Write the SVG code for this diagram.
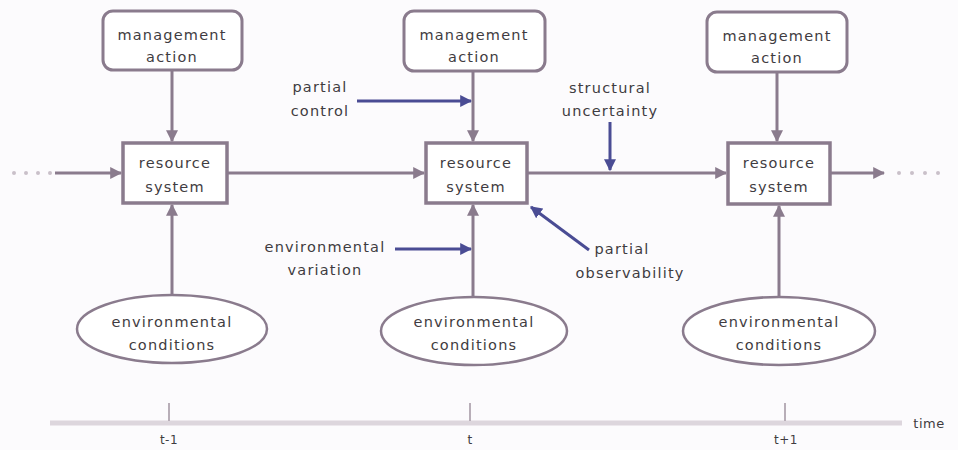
<svg xmlns="http://www.w3.org/2000/svg" width="958" height="450" viewBox="0 0 958 450">
<defs>
<marker id="ah" viewBox="0 0 10 10" refX="9" refY="5" markerWidth="4" markerHeight="4" orient="auto" markerUnits="strokeWidth">
<path d="M0,0 L10,5 L0,10 z" fill="#8a7b8d"/>
</marker>
<marker id="bh" viewBox="0 0 10 10" refX="9" refY="5" markerWidth="4" markerHeight="4" orient="auto" markerUnits="strokeWidth">
<path d="M0,0 L10,5 L0,10 z" fill="#4a4c94"/>
</marker>
</defs>
<style>
text{font-family:"DejaVu Sans","Liberation Sans",sans-serif;font-size:14.5px;fill:#3f3c41;text-anchor:middle;letter-spacing:1.2px}
.act{fill:#ffffff;stroke:#8a7b8d;stroke-width:3}
.res{fill:#ffffff;stroke:#8a7b8d;stroke-width:3.5}
.env{fill:#ffffff;stroke:#8a7b8d;stroke-width:2.5}
.ln{stroke:#8a7b8d;stroke-width:3;fill:none}
.bl{stroke:#4a4c94;stroke-width:3;fill:none}
.dot{fill:#c9c0c9}
.ax{stroke:#ddd6dd;stroke-width:5}
.tk{stroke:#b8aeb8;stroke-width:2}
.sm{font-size:12px;letter-spacing:0.5px}
</style>
<rect width="958" height="450" fill="#fcfbfd"/>

<g id="axis">
<line class="ax" x1="50" y1="423" x2="902" y2="423"/>
<line class="tk" x1="169" y1="403" x2="169" y2="421"/>
<line class="tk" x1="470" y1="403" x2="470" y2="421"/>
<line class="tk" x1="785" y1="403" x2="785" y2="421"/>
<text class="sm" x="169" y="444">t-1</text>
<text class="sm" x="470" y="444">t</text>
<text class="sm" x="786" y="444">t+1</text>
<text class="sm" x="929" y="428" style="font-size:13px">time</text>
</g>

<g id="connectors">
<circle class="dot" cx="14" cy="173" r="2"/>
<circle class="dot" cx="26" cy="173" r="2"/>
<circle class="dot" cx="38" cy="173" r="2"/>
<circle class="dot" cx="50" cy="173" r="2"/>
<line class="ln" x1="55" y1="173" x2="121" y2="173" marker-end="url(#ah)"/>
<line class="ln" x1="228" y1="173" x2="424" y2="173" marker-end="url(#ah)"/>
<line class="ln" x1="528" y1="173" x2="726" y2="173" marker-end="url(#ah)"/>
<line class="ln" x1="831" y1="173" x2="884" y2="173" marker-end="url(#ah)"/>
<circle class="dot" cx="899" cy="173" r="2"/>
<circle class="dot" cx="912" cy="173" r="2"/>
<circle class="dot" cx="925" cy="173" r="2"/>
<circle class="dot" cx="938" cy="173" r="2"/>
<line class="ln" x1="172" y1="71" x2="172" y2="141" marker-end="url(#ah)"/>
<line class="ln" x1="473" y1="72" x2="473" y2="141" marker-end="url(#ah)"/>
<line class="ln" x1="777" y1="72" x2="777" y2="141" marker-end="url(#ah)"/>
<line class="ln" x1="172" y1="295" x2="172" y2="205" marker-end="url(#ah)"/>
<line class="ln" x1="473" y1="297" x2="473" y2="205" marker-end="url(#ah)"/>
<line class="ln" x1="779" y1="297" x2="779" y2="206" marker-end="url(#ah)"/>
<line class="bl" x1="357" y1="101" x2="471" y2="101" marker-end="url(#bh)"/>
<line class="bl" x1="610" y1="122" x2="610" y2="170" marker-end="url(#bh)"/>
<line class="bl" x1="395" y1="249" x2="471" y2="249" marker-end="url(#bh)"/>
<line class="bl" x1="589" y1="250" x2="531" y2="207" marker-end="url(#bh)"/>
</g>

<g id="action1"><rect class="act" x="103" y="11" width="139" height="59" rx="10"/><text x="172" y="40">management</text><text x="172" y="62">action</text></g>
<g id="action2"><rect class="act" x="404" y="11" width="141" height="60" rx="10"/><text x="474" y="40">management</text><text x="474" y="62">action</text></g>
<g id="action3"><rect class="act" x="707" y="12" width="140" height="60" rx="10"/><text x="777" y="41">management</text><text x="777" y="63">action</text></g>

<g id="resource1"><rect class="res" x="123" y="143" width="104" height="60"/><text x="175" y="168">resource</text><text x="175" y="192">system</text></g>
<g id="resource2"><rect class="res" x="426" y="143" width="101" height="60"/><text x="476" y="168">resource</text><text x="476" y="192">system</text></g>
<g id="resource3"><rect class="res" x="728" y="143" width="102" height="61"/><text x="779" y="168">resource</text><text x="779" y="192">system</text></g>

<g id="env1"><ellipse class="env" cx="172" cy="329" rx="95" ry="34"/><text x="172" y="327">environmental</text><text x="172" y="350">conditions</text></g>
<g id="env2"><ellipse class="env" cx="474" cy="331" rx="93" ry="34"/><text x="474" y="327">environmental</text><text x="474" y="350">conditions</text></g>
<g id="env3"><ellipse class="env" cx="779" cy="331" rx="96" ry="34"/><text x="779" y="327">environmental</text><text x="779" y="350">conditions</text></g>

<g id="partial-control"><text x="320" y="92">partial</text><text x="320" y="116">control</text></g>
<g id="structural-uncertainty"><text x="610" y="93">structural</text><text x="610" y="116">uncertainty</text></g>
<g id="environmental-variation"><text x="325" y="252">environmental</text><text x="325" y="275">variation</text></g>
<g id="partial-observability"><text x="622" y="254">partial</text><text x="630" y="278">observability</text></g>
</svg>
